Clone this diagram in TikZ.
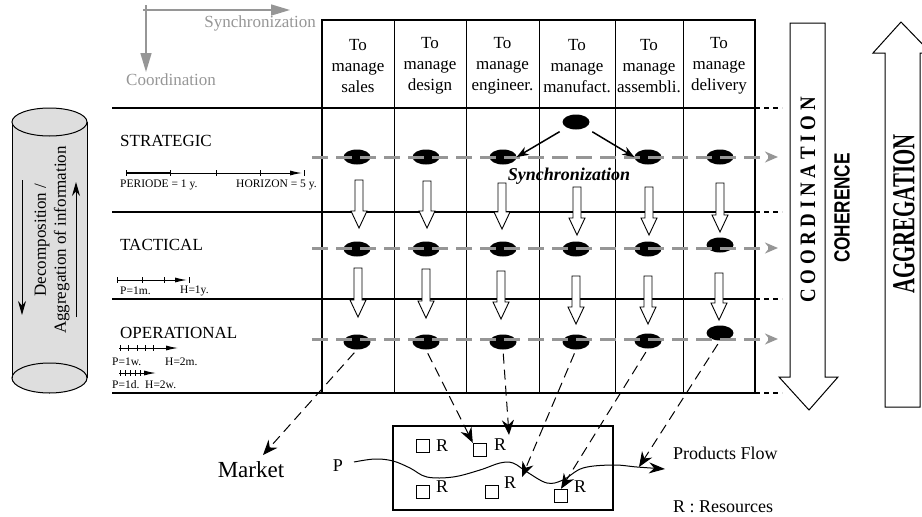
\documentclass[tikz,border=0pt]{standalone}
\usepackage{fontspec}
\setmainfont{Liberation Serif}
\setsansfont{Liberation Sans}
\usetikzlibrary{shapes.geometric,arrows.meta,calc}
\definecolor{axgray}{RGB}{150,150,150}
\definecolor{cylgray}{RGB}{222,222,222}
\newcommand{\fsz}[2]{\fontsize{#1}{#2}\selectfont}
\begin{document}
\begin{tikzpicture}[x=1pt,y=-1pt,
  hdr/.style={align=center,font=\fsz{17}{21},inner sep=0pt},
  lvl/.style={anchor=west,font=\fsz{17}{20},inner sep=0pt},
  tiny/.style={anchor=west,font=\fsz{11.5}{12},inner sep=0pt},
  dot/.style={ellipse,fill=black,minimum width=27pt,minimum height=15pt,inner sep=0pt},
  gline/.style={draw=axgray,line width=3pt,dash pattern=on 16pt off 8pt,-{Stealth[length=13pt,width=11pt]}},
  blk/.style={draw,line width=0.9pt,fill=white},
  dasharrow/.style={line width=1pt,dash pattern=on 10pt off 6pt,-{Stealth[length=15pt,width=12pt]}},
  sq/.style={draw,line width=1.4pt,minimum size=13pt,inner sep=0pt},
  rl/.style={font=\fsz{18}{18},inner sep=0pt},
  tl/.style={line width=1pt,-{Latex[length=12pt,width=5pt]}},
  tick/.style={line width=1pt},
  thin/.style={line width=1.2pt},
  bigarrow/.style={draw,line width=1pt,fill=white}
]
\useasboundingbox (0,0) rectangle (922,517);

% ---------- gray axes ----------
\coordinate (ax0) at (143,10);
\coordinate (ax1) at (290,10);
\coordinate (ay0) at (146,5);
\coordinate (ay1) at (146,72);
\draw[axgray,line width=1.5pt,-{Triangle[length=19pt,width=11pt]}] (ax0) -- (ax1);
\draw[axgray,line width=1.5pt,-{Triangle[length=19pt,width=11pt]}] (ay0) -- (ay1);
\node[anchor=east,text=axgray,font=\fsz{17}{20},inner sep=0pt] (lsync) at (316,23) {Synchronization};
\node[anchor=west,text=axgray,font=\fsz{17}{20},inner sep=0pt] (lcoord) at (126,80) {Coordination};

% ---------- cylinder ----------
\fill[cylgray] (12,122) rectangle (87,378);
\draw[fill=cylgray,line width=1pt] (49.5,378) ellipse [x radius=37.5, y radius=15];
\draw[line width=1pt] (12,122) -- (12,378) (87,122) -- (87,378);
\draw[fill=cylgray,line width=1pt] (49.5,122) ellipse [x radius=37.5, y radius=14];
\coordinate (cd0) at (22,180);
\coordinate (cd1) at (22,315);
\coordinate (cu0) at (76,317);
\coordinate (cu1) at (76,182);
\draw[line width=1pt,-{Stealth[length=14pt,width=8pt]}] (cd0) -- (cd1);
\draw[line width=1pt,-{Stealth[length=14pt,width=8pt]}] (cu0) -- (cu1);
\node[rotate=90,align=center,font=\fsz{17}{20},inner sep=0pt] (cyltxt) at (52,240) {Decomposition /\\Aggregation of information};

% ---------- grid ----------
\draw[thin] (112,108) -- (755,108);
\draw[thin] (112,212) -- (755,212);
\draw[thin] (112,299) -- (755,299);
\draw[thin] (112,393) -- (322,393);
\foreach \c in {394,466,539,615,683} \draw[line width=1pt] (\c,20) -- (\c,393);
\draw[line width=2pt] (322,20) rectangle (755,393);
\foreach \yy in {108,212,299,393}
  \draw[line width=1.5pt,dash pattern=on 5pt off 4pt] (755,\yy) -- (782,\yy);

% ---------- headers ----------
\node[hdr] (h1) at (358,66) {To\\manage\\sales};
\node[hdr] (h2) at (430,66) {To\\manage\\design};
\node[hdr] (h3) at (502.5,66) {To\\manage\\engineer.};
\node[hdr] (h4) at (577,66) {To\\manage\\manufact.};
\node[hdr] (h5) at (649,66) {To\\manage\\assembli.};
\node[hdr] (h6) at (719,66) {To\\manage\\delivery};

% ---------- level labels and timelines ----------
\node[lvl] (lstr) at (120,141) {STRATEGIC};
\node[lvl] (ltac) at (120,245) {TACTICAL};
\node[lvl] (lop) at (120,333) {OPERATIONAL};

\draw[line width=2.5pt] (126,173) -- (170,173);
\draw[tl] (170,173) -- (302,173);
\foreach \x in {126,170,216,260,304} \draw[tick] (\x,170) -- (\x,176);
\node[tiny] (tp1) at (120,185) {PERIODE = 1 y.};
\node[tiny] (th1) at (236,185) {HORIZON = 5 y.};

\draw[tl] (117,280) -- (187,280);
\foreach \x in {117,142,164,189} \draw[tick] (\x,277) -- (\x,283);
\node[tiny] (tp2) at (120,291) {P=1m.};
\node[tiny] (th2) at (180,291) {H=1y.};

\draw[tl] (119,348) -- (178,348);
\foreach \x in {120,128,137,145,153} \draw[tick] (\x,345) -- (\x,351);
\node[tiny] (tp3) at (112,362) {P=1w.};
\node[tiny] (th3) at (165,362) {H=2m.};

\draw[tl] (119,373) -- (156,373);
\foreach \x in {120,125,130,135,140} \draw[tick] (\x,370) -- (\x,376);
\node[tiny] (tp4) at (112,385) {P=1d.\ \ H=2w.};

% ---------- block arrows ----------
\foreach \x/\t/\b in {359/180/228, 427/181/228, 502/183/229, 577/187/235, 649/187/235, 720/183/232,
                      358/268/317, 426/269/318, 501/271/319, 576/276/324, 648/276/324, 719/273/320}
  \draw[blk] ({\x-4},\t) -- ({\x+4},\t) -- ({\x+4},{\b-17}) -- ({\x+8},{\b-17}) -- (\x,\b)
             -- ({\x-8},{\b-17}) -- ({\x-4},{\b-17}) -- cycle;

% ---------- decision centres ----------
\node[dot] (et) at (576,122) {};
\node[dot] (e11) at (357,157) {};
\node[dot] (e12) at (426,157) {};
\node[dot] (e13) at (503,157) {};
\node[dot] (e15) at (648,157) {};
\node[dot] (e16) at (720,157) {};
\node[dot] (e21) at (357,249) {};
\node[dot] (e22) at (426,249) {};
\node[dot] (e23) at (503,249) {};
\node[dot] (e24) at (576,249) {};
\node[dot] (e25) at (648,249) {};
\node[dot] (e26) at (720,245) {};
\node[dot] (e31) at (357,342) {};
\node[dot] (e32) at (426,342) {};
\node[dot] (e33) at (503,342) {};
\node[dot] (e34) at (576,342) {};
\node[dot] (e35) at (648,341) {};
\node[dot] (e36) at (720,333) {};

% gray synchronization lines
\coordinate (g1a) at (312,157); \coordinate (g1b) at (778,157);
\coordinate (g2a) at (312,248); \coordinate (g2b) at (778,248);
\coordinate (g3a) at (312,339); \coordinate (g3b) at (778,339);
\draw[gline] (g1a) -- (g1b);
\draw[gline] (g2a) -- (g2b);
\draw[gline] (g3a) -- (g3b);

% synchronization arrows
\draw[line width=1.5pt,-{Stealth[length=12pt,width=9pt]},shorten <=19pt] (et.center) -- (e13.east);
\draw[line width=1.5pt,-{Stealth[length=12pt,width=9pt]},shorten <=19pt] (et.center) -- (e15.west);
\node[font=\fsz{18}{18}\bfseries\itshape,inner sep=0pt] (synch) at (569,176) {Synchronization};

% ---------- right big arrows ----------
\draw[bigarrow] (790,23) -- (825,23) -- (825,377) -- (838,377) -- (809,410) -- (779,377) -- (790,377) -- cycle;
\draw[bigarrow] (885,407) -- (885,53) -- (873,53) -- (901,22) -- (931,53) -- (920,53) -- (920,407) -- cycle;
\node[rotate=90,font=\fsz{22}{22}\bfseries,inner sep=0pt] (tcoord) at (808,200) {\scalebox{0.86}[1]{C O O R D I N A T I O N}};
\node[rotate=90,font=\fsz{22}{22}\sffamily\bfseries,inner sep=0pt] (tcoh) at (842,208) {\scalebox{0.78}[1]{COHERENCE}};
\node[rotate=90,font=\fsz{32}{32}\bfseries,inner sep=0pt] (tagg) at (904,214) {\scalebox{0.65}[1]{AGGREGATION}};

% ---------- bottom: physical system ----------
\node[draw,line width=2.2pt,minimum width=220pt,minimum height=84pt,inner sep=0pt] (plant) at (503,468) {};
\node[sq] (r1) at (423,446) {};
\node[sq] (r2) at (480,450) {};
\node[sq] (r3) at (423,492) {};
\node[sq] (r4) at (492,492) {};
\node[sq] (r5) at (561,496) {};
\node[rl] (rl1) at (442,446) {R};
\node[rl] (rl2) at (500,445) {R};
\node[rl] (rl3) at (442,487) {R};
\node[rl] (rl4) at (510,483) {R};
\node[rl] (rl5) at (580,487) {R};
\node[rl] (pp) at (338,466) {P};
\node[font=\fsz{23}{23},inner sep=0pt] (market) at (251,470) {Market};
\node[anchor=west,font=\fsz{18}{18},inner sep=0pt] (pflow) at (673,453) {Products Flow};
\node[anchor=west,font=\fsz{18}{18},inner sep=0pt] (rres) at (673,507) {R : Resources};

\draw[line width=1pt,-{Stealth[length=16pt,width=11pt]}] plot[smooth,tension=0.6] coordinates
  {(354,462) (375,459) (393,461) (410,468) (427,477) (453,477) (480,470) (500,463) (513,463)
   (527,472) (547,483) (563,480) (583,468) (613,465) (637,467) (665,469)};

% ---------- dashed links to physical system ----------
\coordinate (mkt) at (263,455);
\coordinate (t3) at (509,435);
\coordinate (t4) at (522,477);
\coordinate (t6) at (639,467);
\draw[dasharrow,shorten <=4pt] (e31.south) -- (mkt);
\draw[dasharrow,shorten <=4pt] (e32.south) -- (r2.north west);
\draw[dasharrow,shorten <=4pt] (e33.south) -- (t3);
\draw[dasharrow,shorten <=4pt] (e34.south) -- (t4);
\draw[dasharrow,shorten <=4pt] (e35.south) -- (r5.north);
\draw[dasharrow,shorten <=4pt] (e36.south) -- (t6);
\end{tikzpicture}
\end{document}
